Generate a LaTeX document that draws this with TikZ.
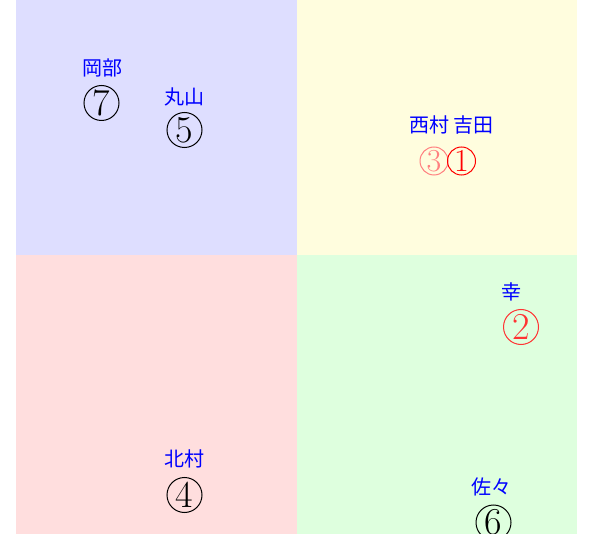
\documentclass[tikz,border=0pt]{standalone}
\usepackage{fontspec}
\newfontfamily\cjk{Noto Sans CJK JP}

\begin{document}
\begin{tikzpicture}[
	x=0.5pt, y=-0.5pt,
	lb/.style = {text=blue, font=\cjk, inner sep=0pt},
	cn/.style = {circle, draw, line width=0.5pt, inner sep=0pt, minimum size=17.5pt, font=\fontsize{19}{22}\selectfont},
	cs/.style = {circle, draw, line width=0.5pt, inner sep=0pt, minimum size=14pt, font=\fontsize{16}{19}\selectfont}
	]
	
	\useasboundingbox (0, 0) rectangle (589, 534);
	
	% ===== ===== ===== ===== =====
	
	% Quadrants
	\fill[blue!13]		(16, 0)		rectangle	(297, 255);
	\fill[yellow!13]	(297, 0)	rectangle	(577, 255);
	\fill[red!13]		(16, 255)	rectangle	(297, 534);
	\fill[green!13]		(297, 255)	rectangle	(577, 534);
	
	
	
	% ===== ===== ===== ===== =====
	
	% Names
	\node[lb]	(okabe)		at	(102.5, 68)		{岡部};
	\node[lb]	(maruyama)	at	(184.5, 97)		{丸山};
	\node[lb]	(nishimura)	at	(451.5, 125)	{西村 吉田};
	\node[lb]	(miyuki)	at	(511, 292)		{幸};
	\node[lb]	(kitamura)	at	(184, 459)		{北村};
	\node[lb]	(sasa)		at	(491.5, 486.5)	{佐々};
	
	% Numbers
	\node[cn]				(n7)	at	(101.5, 103)	{7};
	\node[cn]				(n5)	at	(184.5, 130)	{5};
	\node[cs, red!50]		(n3)	at	(434, 161)		{3};
	\node[cs, red]			(n1)	at	(461.5, 161)	{1};
	\node[cn, red!80]		(n2)	at	(521, 327)		{2};
	\node[cn]				(n4)	at	(184.5, 495)	{4};
	\node[cn]				(n6)	at	(493.5, 522.5)	{6};
	
\end{tikzpicture}
\end{document}
